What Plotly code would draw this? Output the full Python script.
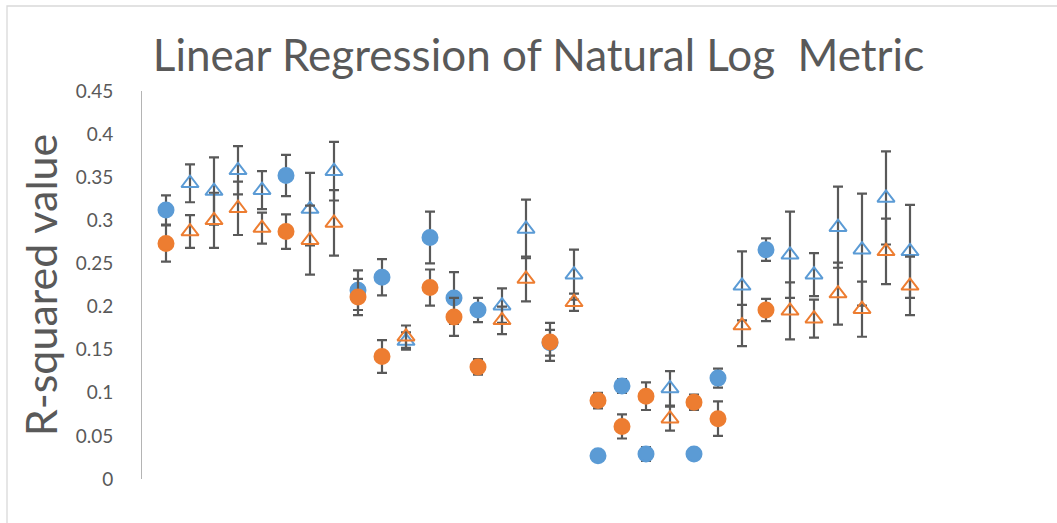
import plotly.graph_objects as go

categories = list(range(1, 33))
symbols = ["circle", "tri", "tri", "tri", "tri", "circle", "tri", "tri",
           "circle", "circle", "tri", "circle", "circle", "circle", "tri", "tri",
           "circle", "tri", "circle", "circle", "circle", "tri", "circle", "circle",
           "tri", "circle", "tri", "tri", "tri", "tri", "tri", "tri"]

blue_values = [0.312, 0.343, 0.334, 0.358, 0.335, 0.352, 0.313, 0.357,
               0.219, 0.234, 0.160, 0.280, 0.210, 0.196, 0.201, 0.290,
               0.158, 0.237, 0.027, 0.108, 0.029, 0.105, 0.029, 0.117,
               0.224, 0.266, 0.260, 0.237, 0.292, 0.266, 0.326, 0.264]
blue_err = [0.017, 0.022, 0.039, 0.028, 0.022, 0.024, 0.042, 0.034,
            0.023, 0.021, 0.010, 0.030, 0.030, 0.014, 0.020, 0.034,
            0.015, 0.029, 0.002, 0.008, 0.008, 0.020, 0.004, 0.011,
            0.040, 0.013, 0.050, 0.025, 0.047, 0.065, 0.054, 0.054]

orange_values = [0.273, 0.287, 0.300, 0.314, 0.291, 0.287, 0.277, 0.297,
                 0.211, 0.142, 0.165, 0.222, 0.188, 0.130, 0.184, 0.232,
                 0.159, 0.205, 0.091, 0.061, 0.096, 0.070, 0.089, 0.070,
                 0.178, 0.196, 0.195, 0.186, 0.215, 0.197, 0.264, 0.224]
orange_err = [0.021, 0.019, 0.032, 0.031, 0.018, 0.020, 0.040, 0.038,
              0.021, 0.019, 0.013, 0.021, 0.022, 0.009, 0.016, 0.026,
              0.022, 0.010, 0.009, 0.014, 0.016, 0.014, 0.009, 0.020,
              0.024, 0.013, 0.033, 0.022, 0.036, 0.032, 0.038, 0.034]

y_ticks = [0, 0.05, 0.1, 0.15, 0.2, 0.25, 0.3, 0.35, 0.4, 0.45]
y_tick_labels = ["0", "0.05", "0.1", "0.15", "0.2", "0.25", "0.3", "0.35", "0.4", "0.45"]

BLUE = "#5B9BD5"
ORANGE = "#ED7D31"
ERR = "#595959"
FONT = "Lato"

plot_syms = ["circle" if s == "circle" else "triangle-up-open" for s in symbols]

fig = go.Figure()
for vals, errs, col, name in [(blue_values, blue_err, BLUE, "Blue"),
                              (orange_values, orange_err, ORANGE, "Orange")]:
    fig.add_trace(go.Scatter(
        x=categories, y=vals, mode="markers", name=name,
        marker=dict(symbol=plot_syms, size=15, color=col, opacity=1,
                    line=dict(color=col, width=2)),
        error_y=dict(type="data", array=errs, visible=True, color=ERR,
                     thickness=2.2, width=5),
        showlegend=False,
    ))

W, H = 1057, 523
ml, mr, mt, mb = 142, 75, 91, 44
pw = W - ml - mr
ph = H - mt - mb

def px2paper_x(px):
    return (px - ml) / pw

def px2paper_y(py):
    return (H - mb - py) / ph

fig.add_shape(type="rect", xref="paper", yref="paper",
              x0=px2paper_x(7), x1=px2paper_x(1070),
              y0=px2paper_y(540), y1=px2paper_y(6),
              line=dict(color="#d9d9d9", width=1.3), fillcolor="rgba(0,0,0,0)",
              layer="below")

fig.update_layout(
    width=W, height=H,
    margin=dict(l=ml, r=mr, t=mt, b=mb),
    paper_bgcolor="white", plot_bgcolor="white",
    font=dict(family=FONT, color="#595959"),
    title=dict(text="Linear Regression of Natural Log  Metric",
               x=538.5 / W, xref="container", xanchor="center",
               y=1 - 56 / H, yref="container", yanchor="middle",
               font=dict(family=FONT, size=44, color="#595959")),
    xaxis=dict(range=[0, 35], showline=False, showgrid=False, zeroline=False,
               showticklabels=False, ticks=""),
    yaxis=dict(range=[0, 0.45], tickvals=y_ticks, ticktext=y_tick_labels,
               showline=True, linecolor="#b4b4b4", linewidth=1,
               showgrid=False, zeroline=False, ticks="",
               ticklabelstandoff=24,
               tickfont=dict(family=FONT, size=19, color="#595959"),
               title=dict(text="R-squared value", standoff=4,
                          font=dict(family=FONT, size=43, color="#595959"))),
)

fig.write_html("out.html")
